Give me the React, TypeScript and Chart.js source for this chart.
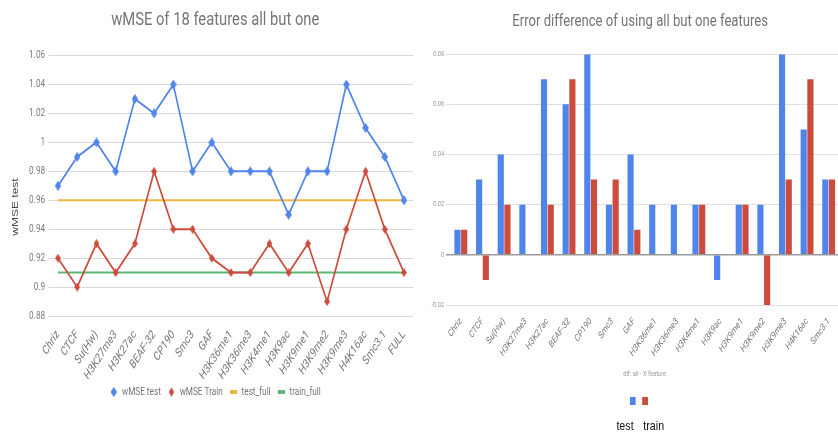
import { useEffect, useRef } from 'react';
import { Chart, registerables } from 'chart.js';

Chart.register(...registerables);

// Features left out one at a time; FULL is the model with every feature.
const features = [
  'Chriz', 'CTCF', 'Su(Hw)', 'H3K27me3', 'H3K27ac', 'BEAF-32', 'CP190', 'Smc3', 'GAF',
  'H3K36me1', 'H3K36me3', 'H3K4me1', 'H3K9ac', 'H3K9me1', 'H3K9me2', 'H3K9me3', 'H4K16ac', 'Smc3.1',
];
const wmseCategories = [...features, 'FULL'];

// Weighted MSE with all features but one.
const wmseTest = [0.97, 0.99, 1.0, 0.98, 1.03, 1.02, 1.04, 0.98, 1.0, 0.98, 0.98, 0.98, 0.95, 0.98, 0.98, 1.04, 1.01, 0.99, 0.96];
const wmseTrain = [0.92, 0.9, 0.93, 0.91, 0.93, 0.98, 0.94, 0.94, 0.92, 0.91, 0.91, 0.93, 0.91, 0.93, 0.89, 0.94, 0.98, 0.94, 0.91];
const testFull = 0.96;
const trainFull = 0.91;
const wmseTicks = [0.88, 0.9, 0.92, 0.94, 0.96, 0.98, 1.0, 1.02, 1.04, 1.06];

// Error difference (all - X feature).
const diffTest = [0.01, 0.03, 0.04, 0.02, 0.07, 0.06, 0.08, 0.02, 0.04, 0.02, 0.02, 0.02, -0.01, 0.02, 0.02, 0.08, 0.05, 0.03];
const diffTrain = [0.01, -0.01, 0.02, 0, 0.02, 0.07, 0.03, 0.03, 0.01, 0, 0, 0.02, 0, 0.02, -0.02, 0.03, 0.07, 0.03];
const diffTicks = [-0.02, 0, 0.02, 0.04, 0.06, 0.08];

const BLUE = '#4f85ea';
const RED = '#cc4b3c';
const YELLOW = '#f3b73e';
const GREEN = '#5bb775';

const FONT = "Roboto, 'Noto Sans', sans-serif";
const ARIAL = "'Liberation Sans', Arial, sans-serif";

// Both panels are laid out wide and drawn compressed horizontally.
const SQUEEZE = 0.82;
const LEFT_W = 512;
const RIGHT_W = 537;
const H = 432;

const squeezePlugin = {
  id: 'squeeze',
  beforeDraw(chart: any) {
    chart.ctx.setTransform(SQUEEZE, 0, 0, 1, 0, 0);
  },
};

function diamond(color: string, w: number, h: number) {
  const c = document.createElement('canvas');
  c.width = w;
  c.height = h;
  const ctx = c.getContext('2d')!;
  ctx.fillStyle = color;
  ctx.beginPath();
  ctx.moveTo(w / 2, 0);
  ctx.lineTo(w, h / 2);
  ctx.lineTo(w / 2, h);
  ctx.lineTo(0, h / 2);
  ctx.closePath();
  ctx.fill();
  return c;
}

function bar(color: string, w: number, h: number) {
  const c = document.createElement('canvas');
  c.width = w;
  c.height = h;
  const ctx = c.getContext('2d')!;
  ctx.fillStyle = color;
  ctx.fillRect(0, 0, w, h);
  return c;
}

const fmt = (v: number | string) => String(Math.round(Number(v) * 100) / 100);

export default function App() {
  const leftRef = useRef<HTMLCanvasElement | null>(null);
  const rightRef = useRef<HTMLCanvasElement | null>(null);

  useEffect(() => {
    const blueMark = diamond(BLUE, 8, 10);
    const redMark = diamond(RED, 7, 9);

    const left = new Chart(leftRef.current!, {
      type: 'line',
      data: {
        labels: wmseCategories,
        datasets: [
          {
            label: 'wMSE test',
            data: wmseTest,
            borderColor: BLUE,
            backgroundColor: BLUE,
            borderWidth: 2,
            pointStyle: blueMark as any,
            pointRadius: 5,
            tension: 0,
          },
          {
            label: 'wMSE Train',
            data: wmseTrain,
            borderColor: RED,
            backgroundColor: RED,
            borderWidth: 2,
            pointStyle: redMark as any,
            pointRadius: 5,
            tension: 0,
          },
          {
            label: 'test_full',
            data: [{ x: 'Chriz', y: testFull }, { x: 'FULL', y: testFull }] as any,
            borderColor: YELLOW,
            backgroundColor: YELLOW,
            borderWidth: 2,
            pointRadius: 0,
            pointStyle: bar(YELLOW, 9, 4) as any,
          },
          {
            label: 'train_full',
            data: [{ x: 'Chriz', y: trainFull }, { x: 'FULL', y: trainFull }] as any,
            borderColor: GREEN,
            backgroundColor: GREEN,
            borderWidth: 2,
            pointRadius: 0,
            pointStyle: bar(GREEN, 9, 4) as any,
          },
        ],
      },
      options: {
        responsive: false,
        animation: false,
        layout: { padding: { left: 20.6, right: 7.6, top: 0, bottom: 25 } },
        scales: {
          x: {
            offset: true,
            grid: { display: false },
            border: { display: false },
            ticks: {
              autoSkip: false,
              minRotation: 52,
              maxRotation: 52,
              padding: 4,
              color: '#777',
              font: { family: FONT, size: 12, style: 'italic' },
            },
            afterFit: (s: any) => {
              s.height = 63;
            },
          },
          y: {
            min: 0.88,
            max: 1.06,
            border: { display: false },
            grid: { color: '#d4d4d4', drawTicks: false },
            afterBuildTicks: (s: any) => {
              s.ticks = wmseTicks.map((v) => ({ value: v }));
            },
            ticks: {
              padding: 4,
              color: '#7c7c7c',
              font: { family: FONT, size: 10, style: 'normal' },
              callback: (v: any) => fmt(v),
            },
            afterFit: (s: any) => {
              s.width = 38.4;
            },
          },
        },
        plugins: {
          title: {
            display: true,
            text: 'wMSE of 18 features all but one',
            color: '#757575',
            font: { family: FONT, size: 18, weight: 'normal', style: 'normal' },
            padding: { top: 10, bottom: 24 },
          },
          legend: {
            position: 'bottom',
            labels: {
              usePointStyle: true,
              boxWidth: 12,
              padding: 8,
              color: '#757575',
              font: { family: FONT, size: 10, style: 'normal' },
            },
          },
          tooltip: { enabled: false },
        },
      },
      plugins: [
        squeezePlugin,
        {
          id: 'yAxisName',
          afterDraw(chart: any) {
            const ctx = chart.ctx;
            ctx.save();
            ctx.translate(19, 207);
            ctx.rotate(-Math.PI / 2);
            ctx.font = `12px ${ARIAL}`;
            ctx.fillStyle = '#444';
            ctx.textAlign = 'center';
            ctx.textBaseline = 'middle';
            ctx.fillText('wMSE test', 0, 0);
            ctx.restore();
          },
        },
      ],
    });

    const right = new Chart(rightRef.current!, {
      type: 'bar',
      data: {
        labels: features,
        datasets: [
          { label: 'test', data: diffTest, backgroundColor: BLUE, categoryPercentage: 0.62, barPercentage: 0.92 },
          { label: 'train', data: diffTrain, backgroundColor: RED, categoryPercentage: 0.62, barPercentage: 0.92 },
        ],
      },
      options: {
        responsive: false,
        animation: false,
        layout: { padding: 0 },
        scales: {
          x: {
            grid: { display: false },
            border: { display: false },
            ticks: {
              autoSkip: false,
              minRotation: 50,
              maxRotation: 50,
              padding: 3,
              color: '#777',
              font: { family: FONT, size: 9.5, style: 'italic' },
            },
            afterFit: (s: any) => {
              s.height = 127;
            },
          },
          y: {
            min: -0.02,
            max: 0.08,
            border: { display: false },
            grid: {
              color: (c: any) => (c.tick && c.tick.value === 0 ? '#9a9a9a' : '#dcdcdc'),
              lineWidth: (c: any) => (c.tick && c.tick.value === 0 ? 1.5 : 1),
              drawTicks: true,
              tickLength: 5,
            },
            afterBuildTicks: (s: any) => {
              s.ticks = diffTicks.map((v) => ({ value: v }));
            },
            ticks: {
              padding: 2,
              color: '#999',
              font: { family: FONT, size: 7, style: 'normal' },
              callback: (v: any) => fmt(v),
            },
            afterFit: (s: any) => {
              s.width = 36.6;
            },
          },
          // empty right-hand margin, keeps the title centred on the full panel
          yMargin: {
            position: 'right',
            grid: { display: false },
            border: { display: false },
            ticks: { display: false },
            afterFit: (s: any) => {
              s.width = 25.4;
            },
          },
        },
        plugins: {
          title: {
            display: true,
            text: 'Error difference of using all but one features',
            color: '#757575',
            font: { family: FONT, size: 16, weight: 'normal', style: 'normal' },
            padding: { top: 12, bottom: 23 },
          },
          legend: { display: false },
          tooltip: { enabled: false },
        },
      },
      plugins: [
        squeezePlugin,
        {
          id: 'diffFooter',
          afterDraw(chart: any) {
            const ctx = chart.ctx;
            const ds = chart.data.datasets;
            ctx.save();
            ctx.textAlign = 'center';
            ctx.textBaseline = 'middle';
            ctx.font = `7px ${FONT}`;
            ctx.fillStyle = '#999';
            ctx.fillText('dif: all - X feature', 274, 374);
            ctx.fillStyle = ds[0].backgroundColor;
            ctx.fillRect(256, 397, 7, 8);
            ctx.fillStyle = ds[1].backgroundColor;
            ctx.fillRect(271, 397, 7, 8);
            ctx.font = `13px ${ARIAL}`;
            ctx.fillStyle = '#111';
            ctx.fillText(ds[0].label, 250, 426);
            ctx.fillText(ds[1].label, 285, 426);
            ctx.restore();
          },
        },
      ],
    });

    return () => {
      left.destroy();
      right.destroy();
    };
  }, []);

  return (
    <div
      style={{
        position: 'absolute',
        left: 0,
        top: 0,
        width: 838,
        height: H,
        overflow: 'hidden',
        background: '#fff',
      }}
    >
      <canvas ref={leftRef} width={LEFT_W} height={H} style={{ position: 'absolute', left: 0, top: 0 }} />
      <canvas ref={rightRef} width={RIGHT_W} height={H} style={{ position: 'absolute', left: 420, top: 0 }} />
    </div>
  );
}
